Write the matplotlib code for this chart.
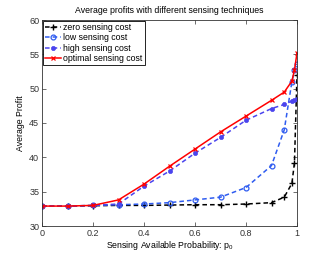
import matplotlib.pyplot as plt

plt.switch_backend("agg")
plt.rcParams["font.family"] = ["Liberation Sans", "DejaVu Sans"]

p0 = [0, 0.1, 0.2, 0.3, 0.4, 0.5, 0.6, 0.7, 0.8, 0.9, 0.95, 0.98, 0.99, 1.0]
zero_cost = [32.9, 32.9, 32.95, 33.0, 33.0, 33.05, 33.1, 33.1, 33.2, 33.4, 34.2, 36.2, 39.2, 52.0]
low_cost = [32.9, 32.9, 33.0, 33.1, 33.2, 33.4, 33.8, 34.2, 35.6, 38.8, 44.0, 51.0, 52.7, 53.6]
high_cost = [32.9, 32.9, 33.0, 33.2, 35.8, 38.0, 40.6, 42.9, 45.4, 47.1, 47.7, 48.2, 48.3, 48.5]
optimal_cost = [32.9, 32.9, 33.0, 33.8, 36.1, 38.7, 41.2, 43.7, 46.0, 48.3, 49.5, 51.1, 52.7, 55.2]

labels = ["zero sensing cost", "low sensing cost", "high sensing cost", "optimal sensing cost"]
xticks = [0, 0.2, 0.4, 0.6, 0.8, 1]
yticks = [30, 35, 40, 45, 50, 55, 60]

fig = plt.figure(figsize=(3.29, 2.54), dpi=100, facecolor="white")
ax = fig.add_axes([42 / 329, 1 - 226 / 254, 255 / 329, 206 / 254])

dash = (3, 2)
ax.plot(p0, zero_cost, "--", dashes=dash, color="black", marker="+", markersize=4,
        markeredgewidth=1, linewidth=1.1, label=labels[0])
ax.plot(p0, low_cost, "--", dashes=dash, color="#2f5cf0", marker="o", markersize=3.5,
        markerfacecolor="none", markeredgewidth=0.9, linewidth=1.1, label=labels[1])
ax.plot(p0, high_cost, "--", dashes=dash, color="#4b44ee", marker="o", markersize=3,
        markerfacecolor="#4b44ee", markeredgewidth=0.5, linewidth=1.1, label=labels[2])
ax.plot(p0, optimal_cost, "-", color="red", marker="x", markersize=3,
        markeredgewidth=0.9, linewidth=1.1, label=labels[3])

ax.set_xlim(0, 1)
ax.set_ylim(30, 60)
ax.set_xticks(xticks)
ax.set_xticklabels(["0", "0.2", "0.4", "0.6", "0.8", "1"])
ax.set_yticks(yticks)
ax.tick_params(direction="in", length=3, width=0.5, labelsize=6.5,
               top=True, right=True, pad=2, colors="#333333")
for s in ax.spines.values():
    s.set_linewidth(0.6)
    s.set_color("#333333")

ax.set_title("Average profits with different sensing techniques", fontsize=6.3, pad=5)
ax.set_xlabel("Sensing Available Probability: $\\mathregular{p_0}$", fontsize=6.3, labelpad=1)
ax.set_ylabel("Average Profit", fontsize=6.3, labelpad=3)

leg = ax.legend(loc="upper left", fontsize=6.3, handlelength=1.8, handletextpad=0.3,
                borderpad=0.25, labelspacing=0.15, borderaxespad=0.1, fancybox=False,
                framealpha=1)
leg.get_frame().set_edgecolor("black")
leg.get_frame().set_linewidth(0.6)

fig.savefig("out.png", dpi=100)
